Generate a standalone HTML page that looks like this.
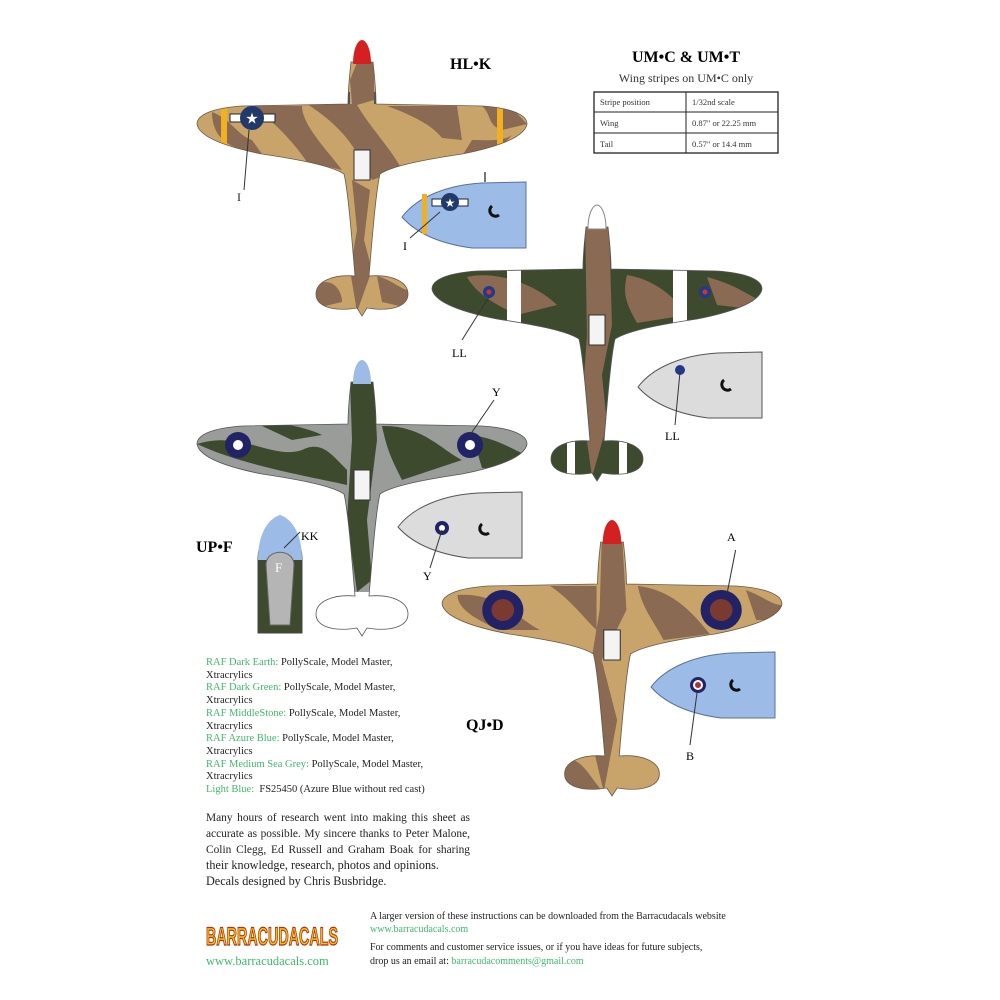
<!DOCTYPE html>
<html><head><meta charset="utf-8"><style>
body{margin:0;background:#fff;width:1000px;height:1000px;overflow:hidden;font-family:"Liberation Serif",serif;}
svg{position:absolute;left:0;top:0}
.t{position:absolute;font-family:"Liberation Serif",serif;color:#222}
.g{color:#3fb96a}
.j{text-align:justify;text-align-last:justify;height:15.8px}
</style></head><body>
<svg width="1000" height="1000" viewBox="0 0 1000 1000">
<defs>
<path id="shape" d="M-11,22 C-13,40 -14,55 -14,64 L-120,66 C-150,68 -165,75 -165,84 C-163,96 -140,106 -100,114 C-60,120 -30,126 -18,134 C-14,150 -10,200 -7,236 C-30,234 -46,242 -46,254 C-46,266 -30,272 -5,268 L0,276 L5,268 C30,272 46,266 46,254 C46,242 30,234 7,236 C10,200 14,150 18,134 C30,126 60,120 100,114 C140,106 163,96 165,84 C165,75 150,68 120,66 L14,64 C14,55 13,40 11,22 Z"/>
<clipPath id="cp"><use href="#shape"/></clipPath>
<path id="side" d="M0,35 C15,15 45,3 80,1 L124,0 L124,66 L70,66 C40,62 15,52 0,35 Z"/>
</defs>

<!-- Plane 1 HL-K -->
<g transform="translate(362,40)">
 <g clip-path="url(#cp)">
  <rect x="-170" y="0" width="340" height="280" fill="#c9a46a"/>
  <path d="M-4,20 L12,20 L12,60 L-5,65 C10,90 30,110 40,130 L10,140 L-2,120 C-10,100 -30,80 -55,64 L-10,64 L-12,40Z" fill="#8a6a52"/>
  <path d="M-10,140 L8,150 L2,200 L10,230 L-5,272 L-12,230 L-5,190Z" fill="#8a6a52"/>
  <path d="M-150,72 C-130,80 -125,95 -110,100 L-100,114 C-130,110 -150,100 -150,72Z" fill="#8a6a52"/>
  <path d="M-110,66 C-90,80 -70,100 -55,122 L-20,130 C-35,110 -60,85 -60,66Z" fill="#8a6a52"/>
  <path d="M25,66 C50,75 70,85 80,98 L100,100 L95,66Z" fill="#8a6a52"/>
  <path d="M120,66 C130,75 125,85 140,90 L165,84 L150,68Z" fill="#8a6a52"/>
  <path d="M110,100 C125,100 140,102 150,95 L140,106 L100,116Z" fill="#8a6a52"/>
  <path d="M-46,245 C-30,236 -20,250 -20,262 L-46,268Z" fill="#8a6a52"/>
  <path d="M15,236 C30,240 40,250 46,250 L46,268 L20,262Z" fill="#8a6a52"/>
  <rect x="-141" y="66" width="6" height="40" fill="#f0b020"/>
  <rect x="135" y="66" width="6" height="40" fill="#f0b020"/>
 </g>
 <use href="#shape" fill="none" stroke="#6a5a4a" stroke-width="0.8"/>
 <path d="M-9,24 C-9,8 -4,0 0,0 C4,0 9,8 9,24Z" fill="#d42020"/>
 <line x1="-13" y1="52" x2="-13" y2="64" stroke="#555" stroke-width="2"/>
 <line x1="13" y1="52" x2="13" y2="64" stroke="#555" stroke-width="2"/>
 <rect x="-8" y="110" width="16" height="30" fill="#f4f4f4" stroke="#333"/>
 <rect x="-132" y="74" width="45" height="8" fill="#fff" stroke="#223"/>
 <circle cx="-110" cy="78" r="12" fill="#223a6a"/>
 <text x="-110" y="83.5" font-size="15" fill="#fff" text-anchor="middle">★</text>
 <line x1="-113" y1="90" x2="-118" y2="150" stroke="#333"/>
</g>
<text x="237" y="201" font-size="12" fill="#222">I</text>

<!-- side view 1 -->
<g transform="translate(402,182)">
 <use href="#side" fill="#9cbbe6" stroke="#5a70a0"/>
 <rect x="20" y="12" width="5" height="40" fill="#f0b020"/>
 <rect x="30" y="17" width="36" height="7" fill="#fff" stroke="#223"/>
 <circle cx="48" cy="20" r="9" fill="#223a6a"/><text x="48" y="25" font-size="12" fill="#fff" text-anchor="middle">★</text>
 <path d="M90,24 a5,5 0 1,0 7,9" fill="none" stroke="#111" stroke-width="3"/>
 <line x1="83" y1="0" x2="83" y2="-10" stroke="#777" stroke-width="2"/>
</g>
<line x1="440" y1="212" x2="410" y2="238" stroke="#333"/>
<text x="403" y="250" font-size="12">I</text>

<!-- Plane 2 UM -->
<g transform="translate(597,205)">
 <g clip-path="url(#cp)">
  <rect x="-170" y="0" width="340" height="280" fill="#3e4a2e"/>
  <path d="M-12,20 L12,20 L15,120 L5,170 L10,220 L-5,272 L-15,200 L-10,130 Z" fill="#8a6a52"/>
  <path d="M-130,72 C-100,65 -60,80 -40,100 L-80,110 C-100,100 -120,90 -130,72Z" fill="#8a6a52"/>
  <path d="M30,70 C60,75 80,95 90,110 L40,118 C30,100 25,90 30,70Z" fill="#8a6a52"/>
  <path d="M110,72 C140,80 150,90 163,95 L163,105 L120,100Z" fill="#8a6a52"/>
  <rect x="-90" y="60" width="14" height="60" fill="#fff"/>
  <rect x="76" y="60" width="14" height="60" fill="#fff"/>
  <rect x="-30" y="230" width="8" height="45" fill="#fff"/>
  <rect x="22" y="230" width="8" height="45" fill="#fff"/>
 </g>
 <use href="#shape" fill="none" stroke="#555" stroke-width="0.8"/>
 <path d="M-9,24 C-9,8 -4,0 0,0 C4,0 9,8 9,24Z" fill="#fff" stroke="#888"/>
 <rect x="-8" y="110" width="16" height="30" fill="#f4f4f4" stroke="#333"/>
 <circle cx="-108" cy="87" r="6" fill="#223a8a"/><circle cx="-108" cy="87" r="2.5" fill="#c33"/>
 <circle cx="108" cy="87" r="6" fill="#223a8a"/><circle cx="108" cy="87" r="2.5" fill="#c33"/>
 <line x1="-108" y1="92" x2="-135" y2="135" stroke="#333"/>
</g>
<text x="452" y="357" font-size="12">LL</text>

<!-- side view 2 -->
<g transform="translate(638,352)">
 <use href="#side" fill="#dcdcdc" stroke="#555"/>
 <circle cx="42" cy="18" r="5" fill="#223a8a"/>
 <path d="M86,28 a5,5 0 1,0 7,9" fill="none" stroke="#111" stroke-width="3"/>
</g>
<line x1="680" y1="372" x2="675" y2="425" stroke="#333"/>
<text x="665" y="440" font-size="12">LL</text>

<!-- Plane 3 UP-F -->
<g transform="translate(362,360)">
 <g clip-path="url(#cp)">
  <rect x="-170" y="0" width="340" height="280" fill="#9a9c9a"/>
  <path d="M-165,84 C-120,70 -90,100 -60,90 C-40,80 -30,95 -15,110 L-15,125 C-60,115 -120,105 -165,84Z" fill="#3e4a2e"/>
  <path d="M-100,66 C-80,60 -50,70 -40,75 L-70,80Z" fill="#3e4a2e"/>
  <path d="M20,66 C60,65 80,90 100,100 L40,120 C30,100 25,90 20,66Z" fill="#3e4a2e"/>
  <path d="M110,75 C140,80 150,90 165,95 L165,110 L120,108Z" fill="#3e4a2e"/>
  <path d="M-12,20 L12,20 L15,80 L5,160 L10,220 L-5,232 L-15,160 L-10,80Z" fill="#3e4a2e"/>
  <rect x="-50" y="232" width="100" height="50" fill="#fff"/>
 </g>
 <use href="#shape" fill="none" stroke="#555" stroke-width="0.8"/>
 <path d="M-9,24 C-9,8 -4,0 0,0 C4,0 9,8 9,24Z" fill="#9cbbe6"/>
 <rect x="-8" y="110" width="16" height="30" fill="#f4f4f4" stroke="#333"/>
 <circle cx="-124" cy="85" r="13" fill="#222266"/><circle cx="-124" cy="85" r="5" fill="#fff"/>
 <circle cx="108" cy="85" r="13" fill="#222266"/><circle cx="108" cy="85" r="5" fill="#fff"/>
 <line x1="108" y1="75" x2="132" y2="40" stroke="#333"/>
</g>
<text x="492" y="396" font-size="12">Y</text>

<!-- side view 3 -->
<g transform="translate(398,492)">
 <use href="#side" fill="#dcdcdc" stroke="#555"/>
 <circle cx="44" cy="36" r="7" fill="#222266"/><circle cx="44" cy="36" r="3" fill="#fff"/>
 <path d="M84,32 a5,5 0 1,0 7,9" fill="none" stroke="#111" stroke-width="3"/>
</g>
<line x1="442" y1="530" x2="430" y2="568" stroke="#333"/>
<text x="423" y="580" font-size="12">Y</text>

<!-- nose front view UP-F -->
<g>
 <path d="M258,560 C258,520 302,520 302,560 L302,633 L258,633Z" fill="#3e4a2e" stroke="#444"/>
 <path d="M258,560 C258,520 280,515 280,515 C280,515 302,520 302,560Z" fill="#9cbbe6"/>
 <path d="M266,565 C266,548 294,548 294,565 L290,625 L270,625Z" fill="#b5b5b5" stroke="#666"/>
 <text x="275" y="572" font-size="13" fill="#fff">F</text>
 <line x1="284" y1="548" x2="300" y2="532" stroke="#333"/>
</g>
<text x="301" y="540" font-size="12">KK</text>
<text x="196" y="552" font-size="16" font-weight="bold">UP•F</text>

<!-- Plane 4 QJ-D -->
<g transform="translate(612,520) scale(1.03,1)">
 <g clip-path="url(#cp)">
  <rect x="-170" y="0" width="340" height="280" fill="#c9a46a"/>
  <path d="M-10,20 L10,20 L14,90 L-10,140 L5,200 L-8,272 L-20,220 L-20,140 L-12,90Z" fill="#8a6a52"/>
  <path d="M-150,75 C-110,72 -90,100 -70,110 L-110,110 C-130,100 -150,90 -150,75Z" fill="#8a6a52"/>
  <path d="M-60,66 C-40,80 -30,95 -15,110 L-15,66Z" fill="#8a6a52"/>
  <path d="M25,66 C60,70 80,95 95,114 L50,120 C40,100 30,90 25,66Z" fill="#8a6a52"/>
  <path d="M130,70 C150,78 155,85 165,85 L165,100 L140,100Z" fill="#8a6a52"/>
  <path d="M-46,240 C-30,235 -20,260 -10,270 L-46,270Z" fill="#8a6a52"/>
 </g>
 <use href="#shape" fill="none" stroke="#6a5a4a" stroke-width="0.8"/>
 <path d="M-9,24 C-9,8 -4,0 0,0 C4,0 9,8 9,24Z" fill="#d42020"/>
 <rect x="-8" y="110" width="16" height="30" fill="#f4f4f4" stroke="#333"/>
 <circle cx="-106" cy="90" r="20" fill="#222266"/><circle cx="-106" cy="90" r="11" fill="#7a3a30"/>
 <circle cx="106" cy="90" r="20" fill="#222266"/><circle cx="106" cy="90" r="11" fill="#7a3a30"/>
 <line x1="112" y1="72" x2="120" y2="30" stroke="#333"/>
</g>
<text x="727" y="541" font-size="12">A</text>
<text x="466" y="730" font-size="16" font-weight="bold">QJ•D</text>

<!-- side view 4 -->
<g transform="translate(651,652)">
 <use href="#side" fill="#9cbbe6" stroke="#5a70a0"/>
 <circle cx="47" cy="33" r="8" fill="#222266"/><circle cx="47" cy="33" r="5" fill="#fff"/><circle cx="47" cy="33" r="3" fill="#a33"/>
 <path d="M82,28 a5,5 0 1,0 7,9" fill="none" stroke="#111" stroke-width="3"/>
</g>
<line x1="697" y1="693" x2="690" y2="745" stroke="#333"/>
<text x="686" y="760" font-size="12">B</text>

<text x="450" y="69" font-size="16" font-weight="bold">HL•K</text>

<!-- table -->
<text x="686" y="62" font-size="16" font-weight="bold" text-anchor="middle">UM•C &amp; UM•T</text>
<text x="686" y="82" font-size="12" text-anchor="middle" fill="#333">Wing stripes on UM•C only</text>
<rect x="594" y="92" width="184" height="61" fill="none" stroke="#222" stroke-width="1.3"/>
<line x1="594" y1="112" x2="778" y2="112" stroke="#222"/>
<line x1="594" y1="133" x2="778" y2="133" stroke="#222"/>
<line x1="686" y1="92" x2="686" y2="153" stroke="#222"/>
<g font-size="8.5" fill="#333">
<text x="600" y="105">Stripe position</text><text x="692" y="105">1/32nd scale</text>
<text x="600" y="126">Wing</text><text x="692" y="126">0.87" or  22.25 mm</text>
<text x="600" y="147">Tail</text><text x="692" y="147">0.57" or  14.4 mm</text>
</g>

<!-- logo -->
<text x="206" y="945" font-family="Liberation Sans, sans-serif" font-weight="bold" font-size="25" fill="#f0c020" stroke="#b03010" stroke-width="1.2" textLength="132" lengthAdjust="spacingAndGlyphs">BARRACUDACALS</text>
</svg>

<div class="t" style="left:206px;top:657px;font-size:10.5px;line-height:12.7px;width:240px">
<span class="g">RAF Dark Earth:</span> PollyScale, Model Master,<br>Xtracrylics<br>
<span class="g">RAF Dark Green:</span> PollyScale, Model Master,<br>Xtracrylics<br>
<span class="g">RAF MiddleStone:</span> PollyScale, Model Master,<br>Xtracrylics<br>
<span class="g">RAF Azure Blue:</span> PollyScale, Model Master,<br>Xtracrylics<br>
<span class="g">RAF Medium Sea Grey:</span> PollyScale, Model Master,<br>Xtracrylics<br>
<span class="g">Light Blue:</span>&nbsp; FS25450 (Azure Blue without red cast)
</div>
<div class="t" style="left:206px;top:811px;font-size:11.4px;line-height:15.8px;width:264px">
<div class="j">Many hours of research went into making this sheet as</div>
<div class="j">accurate as possible. My sincere thanks to Peter Malone,</div>
<div class="j">Colin Clegg, Ed Russell and Graham Boak for sharing</div>
<div style="font-size:12.2px">their knowledge, research, photos and opinions.</div>
<div style="font-size:12.2px">Decals designed by Chris Busbridge.</div>
</div>
<div class="t g" style="left:206px;top:954px;font-size:12.5px">www.barracudacals.com</div>
<div class="t" style="left:370px;top:910px;font-size:10px;line-height:13px">
A larger version of these instructions can be downloaded from the Barracudacals website<br><span class="g">www.barracudacals.com</span></div>
<div class="t" style="left:370px;top:941px;font-size:10px;line-height:13.5px">
For comments and customer service issues, or if you have ideas for future subjects,<br>drop us an email at: <span class="g">barracudacomments@gmail.com</span></div>
</body></html>
